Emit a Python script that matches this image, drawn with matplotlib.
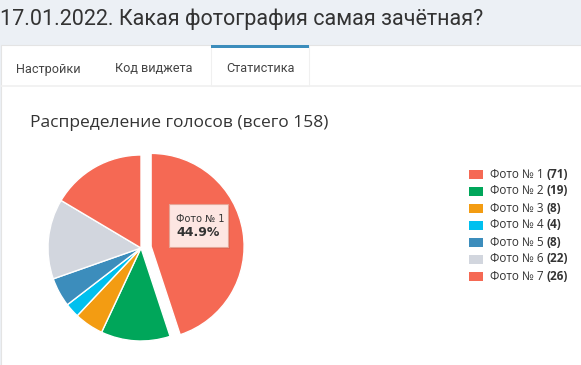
import matplotlib.pyplot as plt
from matplotlib.patches import Rectangle

# data
labels = ['Фото № 1', 'Фото № 2', 'Фото № 3', 'Фото № 4', 'Фото № 5', 'Фото № 6', 'Фото № 7']
votes = [71, 19, 8, 4, 8, 22, 26]
colors = ['#f56954', '#00a65a', '#f39c12', '#00c0ef', '#3c8dbc', '#d2d6de', '#f56954']
tabs = ['Настройки', 'Код виджета', 'Статистика']
page_title = '17.01.2022. Какая фотография самая зачётная?'
total = sum(votes)

W, H = 581, 365
fig = plt.figure(figsize=(W / 100, H / 100), dpi=100)
fig.patch.set_facecolor('#ecf0f5')

# full-figure axes in pixel coords (y down)
bg = fig.add_axes([0, 0, 1, 1])
bg.set_xlim(0, W)
bg.set_ylim(H, 0)
bg.axis('off')

# white box
bg.add_patch(Rectangle((1, 45), W, H, facecolor='white', edgecolor='#e4e4e4', lw=0.8))
# tab bar bottom line
bg.plot([1, W], [85.5, 85.5], color='#f0f0f0', lw=1.2)
# active tab
bg.add_patch(Rectangle((211, 46), 98, 40, facecolor='white', edgecolor='#f0f0f0', lw=0.8))
bg.add_patch(Rectangle((211, 45), 98, 2.5, facecolor='#3c8dbc', edgecolor='none'))

bg.text(0, 19, page_title, fontsize=15.5, color='#333333', family='Roboto', va='center', ha='left')
tab_x = [16, 115, 226]
for x, t in zip(tab_x, tabs):
    bg.text(x, 69, t, fontsize=9.1, color='#444444', family='Roboto', va='center', ha='left')

bg.text(30, 123, f'Распределение голосов (всего {total})', fontsize=12.5, color='#333333',
        family='Open Sans', va='center', ha='left')

# legend
for i, (lab, v, c) in enumerate(zip(labels, votes, colors)):
    y = 174 + i * 17
    bg.add_patch(Rectangle((469, y - 4.5), 14, 9.5, facecolor=c, edgecolor='none'))
    t = bg.text(490, y, lab + ' ', fontsize=8.5, color='#333333', family='Open Sans', va='center', ha='left')
    fig.canvas.draw()
    xe = t.get_window_extent().x1
    bg.annotate(f'({v})', xy=(xe, H - y), xycoords='figure pixels', fontsize=8.5, color='#333333',
                family='Open Sans', fontweight='bold', va='center', ha='left')

# pie
cx, cy, r = 141, 248, 93
pad = 1.3
side = 2 * r * pad
pie_ax = fig.add_axes([(cx - side / 2) / W, (H - cy - side / 2) / H, side / W, side / H])
explode = [0.11, 0, 0, 0, 0, 0, 0]
pie_ax.pie(votes, colors=colors, startangle=90, counterclock=False, explode=explode,
           wedgeprops=dict(edgecolor='white', linewidth=1.0))
pie_ax.set_xlim(-pad, pad)
pie_ax.set_ylim(-pad, pad)
pie_ax.set_aspect('equal')
pie_ax.axis('off')

# tooltip on top
tip = fig.add_axes([0, 0, 1, 1])
tip.set_xlim(0, W)
tip.set_ylim(H, 0)
tip.axis('off')
tip.add_patch(Rectangle((171, 206), 59, 43, facecolor='#c0564a', edgecolor='none', alpha=0.35))
tip.add_patch(Rectangle((169, 204), 59, 43, facecolor='#fde6e2', edgecolor='#e5a597', lw=0.8))
tip.text(176, 219, labels[0], fontsize=7.0, color='#333333', family='DejaVu Sans', va='center', ha='left')
tip.text(176, 233, f'{votes[0] / total * 100:.1f}%', fontsize=9, fontweight='bold', color='#333333',
         family='DejaVu Sans', va='center', ha='left')

fig.savefig('out.png', dpi=100, facecolor=fig.get_facecolor())
